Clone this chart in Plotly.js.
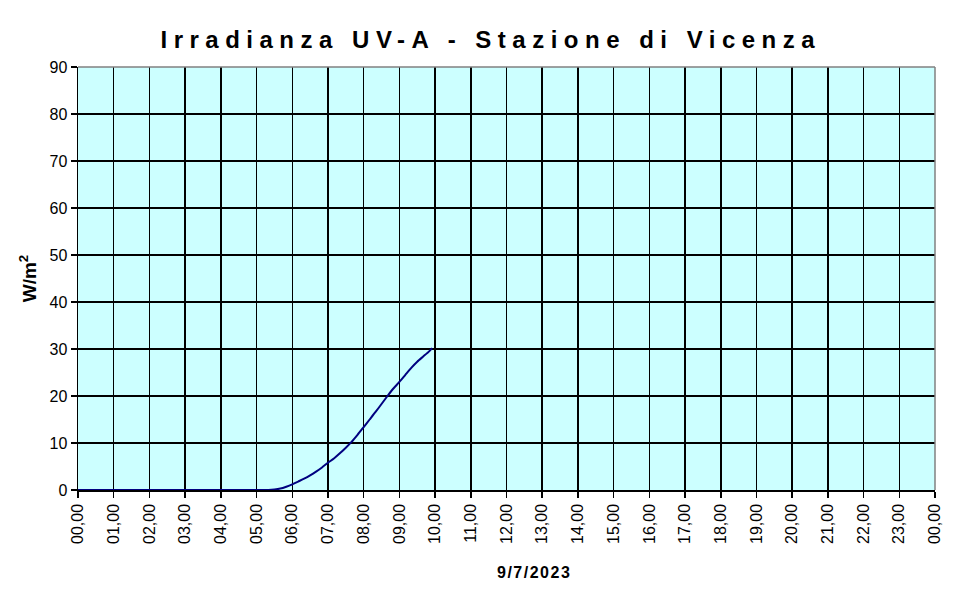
<!DOCTYPE html>
<html>
<head>
<meta charset="utf-8">
<script src="https://cdn.plot.ly/plotly-3.0.1.min.js"></script>
<style>
  html, body { margin: 0; padding: 0; background: #ffffff; }
  #chart { width: 970px; height: 604px; }
  .gtitle { letter-spacing: 6.5px; }
  .annotation-text { letter-spacing: 1.5px; }
</style>
</head>
<body>
<div id="chart"></div>
<script>
// ---- data ----
const times = [
  "00:00","00:10","00:20","00:30","00:40","00:50",
  "01:00","01:10","01:20","01:30","01:40","01:50",
  "02:00","02:10","02:20","02:30","02:40","02:50",
  "03:00","03:10","03:20","03:30","03:40","03:50",
  "04:00","04:10","04:20","04:30","04:40","04:50",
  "05:00","05:10","05:20","05:30","05:40","05:50",
  "06:00","06:10","06:20","06:30","06:40","06:50",
  "07:00","07:10","07:20","07:30","07:40","07:50",
  "08:00","08:10","08:20","08:30","08:40","08:50",
  "09:00","09:10","09:20","09:30","09:40","09:50","09:55"
];
const irradiance = [
  0,0,0,0,0,0,
  0,0,0,0,0,0,
  0,0,0,0,0,0,
  0,0,0,0,0,0,
  0,0,0,0,0,0,
  0,0,0,0.1,0.3,0.7,
  1.2,1.8,2.4,3.1,3.9,4.8,
  5.8,6.7,7.8,9.0,10.3,11.8,
  13.4,15.0,16.6,18.3,20.0,21.6,
  23.0,24.5,26.0,27.3,28.4,29.5,30.2
];
const tickLabels = [
  "00,00","01,00","02,00","03,00","04,00","05,00","06,00","07,00",
  "08,00","09,00","10,00","11,00","12,00","13,00","14,00","15,00",
  "16,00","17,00","18,00","19,00","20,00","21,00","22,00","23,00","00,00"
];
const yTicks = [0,10,20,30,40,50,60,70,80,90];

const titleText = "Irradianza UV-A - Stazione di Vicenza";
const xTitleText = "9/7/2023";
const yTitleText = "W/m<sup>2</sup>";

// ---- build ----
const hours = times.map(t => { const p = t.split(":"); return +p[0] + (+p[1]) / 60; });
const tickVals = tickLabels.map((_, i) => i);

const trace = {
  x: hours,
  y: irradiance,
  type: "scatter",
  mode: "lines",
  line: { color: "#000080", width: 2, shape: "spline", smoothing: 0.6 },
  hoverinfo: "skip"
};

const fontFam = "Liberation Sans, Arial, sans-serif";

const layout = {
  width: 970,
  height: 604,
  margin: { l: 78, r: 35, t: 67, b: 114 },
  paper_bgcolor: "#ffffff",
  plot_bgcolor: "#ccffff",
  showlegend: false,
  title: {
    text: titleText,
    font: { family: fontFam, size: 24, color: "#000000", weight: "bold" },
    x: 0.506, xref: "container", xanchor: "center",
    y: 0.935, yref: "container", yanchor: "middle"
  },
  xaxis: {
    range: [0, 24],
    tickmode: "array",
    tickvals: tickVals,
    ticktext: tickLabels,
    tickangle: -90,
    ticks: "outside",
    ticklen: 6,
    tickwidth: 1.5,
    tickcolor: "#000000",
    showline: true,
    linecolor: "#000000",
    linewidth: 1.5,
    showgrid: true,
    gridcolor: "#000000",
    gridwidth: 1.5,
    zeroline: false,
    tickfont: { family: fontFam, size: 16, color: "#000000" },
    fixedrange: true
  },
  yaxis: {
    range: [0, 90],
    tickmode: "array",
    tickvals: yTicks,
    ticks: "outside",
    ticklen: 6,
    tickwidth: 1.5,
    tickcolor: "#000000",
    showline: true,
    linecolor: "#000000",
    linewidth: 1.5,
    showgrid: true,
    gridcolor: "#000000",
    gridwidth: 1.5,
    zeroline: false,
    tickfont: { family: fontFam, size: 16, color: "#000000" },
    title: {
      text: yTitleText,
      font: { family: fontFam, size: 19, color: "#000000", weight: "bold" },
      standoff: 8
    },
    fixedrange: true
  },
  shapes: [
    { type: "line", xref: "paper", yref: "paper", x0: 0, x1: 1, y0: 1, y1: 1,
      line: { color: "#808080", width: 1.5 } },
    { type: "line", xref: "paper", yref: "paper", x0: 1, x1: 1, y0: 0, y1: 1,
      line: { color: "#808080", width: 1.5 } }
  ],
  annotations: [
    {
      text: "<b>" + xTitleText + "</b>",
      xref: "paper", yref: "paper",
      x: 0.532, y: -0.196,
      xanchor: "center", yanchor: "middle",
      showarrow: false,
      font: { family: fontFam, size: 16, color: "#000000" }
    }
  ]
};

Plotly.newPlot("chart", [trace], layout, { displayModeBar: false, staticPlot: true });
</script>
</body>
</html>
